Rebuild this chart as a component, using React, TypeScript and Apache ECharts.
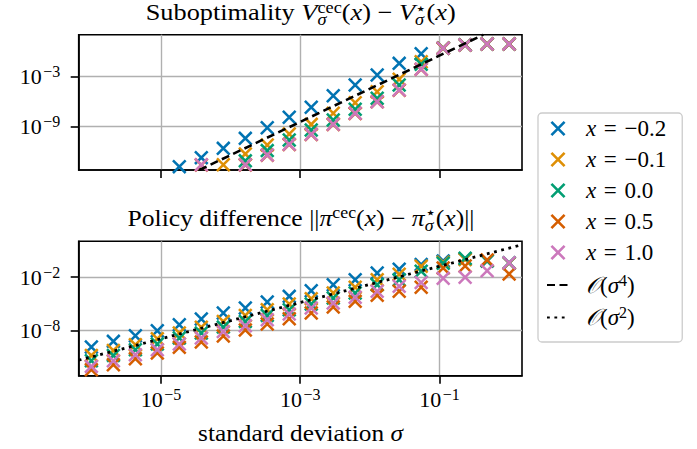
import React, { useEffect, useRef } from "react";
import * as echarts from "echarts";

const FONT = '"Liberation Serif", "DejaVu Serif", serif';
const BASE = 22;
const TITLE = 23;
const SCRIPT = 16;
const TSCRIPT = 16;

// log10 of the standard deviation sigma for the 20 sample points
const sigmaLog10 = [-6, -5.684, -5.368, -5.053, -4.737, -4.421, -4.105, -3.789, -3.474, -3.158, -2.842, -2.526, -2.211, -1.895, -1.579, -1.263, -0.947, -0.632, -0.316, 0];

const seriesNames = ["x = −0.2", "x = −0.1", "x = 0.0", "x = 0.5", "x = 1.0"];
const seriesColors = ["#0173b2", "#de8f05", "#029e73", "#d55e00", "#cc78bc"];

// Top panel: log10 of suboptimality (null = below the visible range)
const subM02 = [null, null, null, null, -13.8, -12.72, -11.6, -10.4, -9.12, -7.87, -6.67, -5.28, -4.0, -2.8, -1.4, -0.24, 0.45, 0.82, 0.92, 0.92];
const subM01 = [null, null, null, null, null, null, -13.57, -12.27, -11.2, -9.87, -8.72, -7.39, -6.12, -4.8, -3.3, -1.2, 0.43, 0.8, 0.92, 0.92];
const sub00 = [null, null, null, null, null, null, null, -13.1, -11.87, -10.6, -9.4, -8.2, -6.91, -5.59, -4.0, -1.5, 0.42, 0.8, 0.92, 0.92];
const sub05 = [null, null, null, null, null, -13.6, null, -13.6, -12.42, -11.14, -9.94, -8.73, -7.41, -6.02, -4.62, -2.12, 0.4, 0.8, 0.92, 0.92];
const sub10 = [null, null, null, null, null, -13.57, null, -13.57, -12.4, -11.12, -9.92, -8.71, -7.39, -6.0, -4.6, -2.1, 0.41, 0.8, 0.92, 0.92];

// Bottom panel: log10 of policy difference
const polM02 = [-9.83, -9.19, -8.56, -8.0, -7.33, -6.7, -6.03, -5.47, -4.8, -4.16, -3.53, -2.86, -2.3, -1.55, -1.12, -0.6, -0.2, 0.0, -0.2, -0.45];
const polM01 = [-10.76, -10.2, -9.57, -8.9, -8.26, -7.62, -6.96, -6.29, -5.66, -5.02, -4.42, -3.79, -3.15, -2.3, -1.7, -0.8, -0.35, -0.05, -0.15, -0.45];
const pol00 = [-11.36, -10.76, -10.13, -9.49, -8.82, -8.26, -7.6, -6.96, -6.29, -5.66, -5.02, -4.35, -3.79, -2.86, -2.3, -1.35, -0.47, 0.09, -0.2, -0.4];
const pol05 = [-12.36, -11.8, -11.13, -10.5, -9.86, -9.27, -8.6, -7.92, -7.25, -6.66, -6.03, -5.35, -4.72, -4.05, -3.6, -3.15, -1.0, -0.77, -0.1, -1.66];
const pol10 = [-11.99, -11.36, -10.68, -10.13, -9.49, -8.82, -8.1, -7.45, -6.77, -6.14, -5.47, -4.91, -4.27, -3.6, -3.04, -2.62, -2.15, -2.03, -1.3, -0.4];

// reference lines [log10 sigma, log10 value]
const sigma4Ref = [[-4.45, -14.2], [-0.37, 2.04]];
const sigma2Ref = [[-6.182, -11.3], [0.185, 1.6]];

const xTicks = [-5, -3, -1];
const yTicksTop = [-9, -3];
const yTicksBottom = [-8, -2];

const X_RANGE = [-6.182, 0.185];
const Y_TOP_RANGE = [-14.2, 2.04];
const Y_BOTTOM_RANGE = [-13.03, 1.99];

const X_PATH =
  "path://M7.07,-7.07L107.07,92.93L92.93,107.07L-7.07,7.07ZM107.07,7.07L7.07,107.07L-7.07,92.93L92.93,-7.07Z";

type Piece = { t: string; size: number; italic?: boolean; rise?: number; stack?: boolean };

function mathText(pieces: Piece[], cx: number, baseline: number, targetWidth: number) {
  const ctx = document.createElement("canvas").getContext("2d")!;
  let x = 0;
  let prevStart = 0;
  let prevW = 0;
  const items: { start: number; p: Piece }[] = [];
  for (const p of pieces) {
    ctx.font = `${p.italic ? "italic " : ""}${p.size}px ${FONT}`;
    const w = ctx.measureText(p.t).width;
    let start: number;
    if (p.stack) {
      start = prevStart;
      const adv = Math.max(prevW, w);
      x = start + adv;
      prevW = adv;
    } else {
      start = x;
      x += w;
      prevStart = start;
      prevW = w;
    }
    items.push({ start, p });
  }
  const total = x;
  const sx = targetWidth / total;
  return items.map(({ start, p }) => ({
    type: "text",
    x: cx - targetWidth / 2 + start * sx,
    y: baseline - (p.rise || 0) - 0.3375 * p.size,
    scaleX: sx,
    silent: true,
    style: {
      text: p.t,
      fontSize: p.size,
      fontFamily: FONT,
      fontStyle: p.italic ? "italic" : "normal",
      fill: "#000",
      align: "left",
      verticalAlign: "middle",
    },
  }));
}

const toPoints = (vals: (number | null)[]) =>
  sigmaLog10.map((s, i) => [s, vals[i]]).filter((d) => d[1] !== null);

const tickLabel = (v: number) => `{b|10}{s|${v < 0 ? "−" : ""}${Math.abs(v)}}`;

const richBase = {
  b: { fontFamily: FONT, fontSize: BASE, lineHeight: 26, color: "#000" },
  s: { fontFamily: FONT, fontSize: SCRIPT, lineHeight: 12, verticalAlign: "top", color: "#000", padding: [0, 0, 0, 1.5] },
};

const SP = "\u2004";
const legendLabels: Record<string, string> = {
  "x = −0.2": `{i|x}{r|${SP}=${SP}−0.2}`,
  "x = −0.1": `{i|x}{r|${SP}=${SP}−0.1}`,
  "x = 0.0": `{i|x}{r|${SP}=${SP}0.0}`,
  "x = 0.5": `{i|x}{r|${SP}=${SP}0.5}`,
  "x = 1.0": `{i|x}{r|${SP}=${SP}1.0}`,
  "O(σ⁴)": "{c|𝒪}{r|(}{i|σ}{s|4}{r|)}",
  "O(σ²)": "{c|𝒪}{r|(}{i|σ}{s|2}{r|)}",
};

export default function App() {
  const ref = useRef<HTMLDivElement>(null);
  useEffect(() => {
    const chart = echarts.init(ref.current!, undefined, { renderer: "svg" });
    const topData = [subM02, subM01, sub00, sub05, sub10];
    const botData = [polM02, polM01, pol00, pol05, pol10];

    const axisCommonX = (gridIndex: number, showLabels: boolean) => ({
      type: "value",
      gridIndex,
      min: X_RANGE[0],
      max: X_RANGE[1],
      axisLine: { show: true, onZero: false, lineStyle: { color: "#000", width: 1.6 } },
      axisTick: { show: true, length: 8, lineStyle: { color: "#000", width: 1.6 }, customValues: xTicks },
      axisLabel: {
        show: showLabels,
        customValues: xTicks,
        margin: 11,
        formatter: tickLabel,
        rich: richBase,
      },
      splitLine: { show: true, lineStyle: { color: "#b0b0b0", width: 1.4 } },
    });
    const axisCommonY = (gridIndex: number, range: number[], ticks: number[]) => ({
      type: "value",
      gridIndex,
      min: range[0],
      max: range[1],
      axisLine: { show: true, onZero: false, lineStyle: { color: "#000", width: 1.6 } },
      axisTick: { show: true, length: 8, lineStyle: { color: "#000", width: 1.6 }, customValues: ticks },
      axisLabel: {
        show: true,
        customValues: ticks,
        margin: 18.5,
        formatter: tickLabel,
        rich: richBase,
      },
      splitLine: { show: true, lineStyle: { color: "#b0b0b0", width: 1.4 } },
    });

    const scatter = (gi: number, i: number, vals: (number | null)[]) => ({
      type: "scatter",
      name: seriesNames[i],
      xAxisIndex: gi,
      yAxisIndex: gi,
      data: toPoints(vals),
      symbol: X_PATH,
      symbolSize: 14.5,
      symbolKeepAspect: true,
      itemStyle: { color: seriesColors[i], opacity: 1 },
      clip: true,
      z: 3,
      silent: true,
    });

    const series: any[] = [];
    topData.forEach((v, i) => series.push(scatter(0, i, v)));
    botData.forEach((v, i) => series.push(scatter(1, i, v)));
    series.push({
      type: "line",
      name: "O(σ⁴)",
      xAxisIndex: 0,
      yAxisIndex: 0,
      data: sigma4Ref,
      symbol: "none",
      showSymbol: false,
      clip: true,
      lineStyle: { color: "#000", width: 2.6, type: [8, 4.5] },
      itemStyle: { color: "#000" },
      z: 4,
      silent: true,
    });
    series.push({
      type: "line",
      name: "O(σ²)",
      xAxisIndex: 1,
      yAxisIndex: 1,
      data: sigma2Ref,
      symbol: "none",
      showSymbol: false,
      clip: true,
      lineStyle: { color: "#000", width: 2.8, type: [2.8, 4.6] },
      itemStyle: { color: "#000" },
      z: 4,
      silent: true,
    });

    const topTitle = mathText(
      [
        { t: "Suboptimality ", size: TITLE },
        { t: "V", size: TITLE, italic: true },
        { t: "cec", size: TSCRIPT, rise: 6.5 },
        { t: "σ", size: TSCRIPT, italic: true, rise: -6, stack: true },
        { t: "(", size: TITLE },
        { t: "x", size: TITLE, italic: true },
        { t: ")", size: TITLE },
        { t: " − ", size: TITLE },
        { t: "V", size: TITLE, italic: true },
        { t: "⋆", size: TSCRIPT, rise: 5.5 },
        { t: "σ", size: TSCRIPT, italic: true, rise: -6, stack: true },
        { t: "(", size: TITLE },
        { t: "x", size: TITLE, italic: true },
        { t: ")", size: TITLE },
      ],
      300.7,
      19.5,
      310
    );
    const botTitle = mathText(
      [
        { t: "Policy difference ", size: TITLE },
        { t: "||", size: TITLE },
        { t: "π", size: TITLE, italic: true },
        { t: "cec", size: TSCRIPT, rise: 7.5 },
        { t: "(", size: TITLE },
        { t: "x", size: TITLE, italic: true },
        { t: ")", size: TITLE },
        { t: " − ", size: TITLE },
        { t: "π", size: TITLE, italic: true },
        { t: "⋆", size: TSCRIPT, rise: 7 },
        { t: "σ", size: TSCRIPT, italic: true, rise: -5.5, stack: true },
        { t: "(", size: TITLE },
        { t: "x", size: TITLE, italic: true },
        { t: ")", size: TITLE },
        { t: "||", size: TITLE },
      ],
      301,
      225.5,
      347
    );
    const xLabel = mathText(
      [
        { t: "standard deviation ", size: TITLE },
        { t: "σ", size: TITLE, italic: true },
      ],
      300.6,
      440.5,
      205
    );

    chart.setOption({
      animation: false,
      backgroundColor: "#fff",
      textStyle: { fontFamily: FONT },
      grid: [
        { left: 78.7, top: 34.7, width: 443.3, height: 135.3, show: true, borderColor: "#000", borderWidth: 1.6, backgroundColor: "transparent", containLabel: false, outerBoundsMode: "none" },
        { left: 78.7, top: 241.3, width: 443.3, height: 134.4, show: true, borderColor: "#000", borderWidth: 1.6, backgroundColor: "transparent", containLabel: false, outerBoundsMode: "none" },
      ],
      xAxis: [axisCommonX(0, false), axisCommonX(1, true)],
      yAxis: [axisCommonY(0, Y_TOP_RANGE, yTicksTop), axisCommonY(1, Y_BOTTOM_RANGE, yTicksBottom)],
      legend: {
        orient: "vertical",
        left: 538,
        top: 113,
        padding: [4, 16, 13, 8],
        itemWidth: 22,
        itemHeight: 15,
        itemGap: 8,
        selectedMode: false,
        backgroundColor: "rgba(255,255,255,0.8)",
        borderColor: "#cccccc",
        borderWidth: 1.3,
        borderRadius: 4,
        itemStyle: { opacity: 1 },
        data: [
          ...seriesNames,
          { name: "O(σ⁴)", itemStyle: { opacity: 0, color: "rgba(0,0,0,0)", borderWidth: 0 } },
          { name: "O(σ²)", itemStyle: { opacity: 0, color: "rgba(0,0,0,0)", borderWidth: 0 } },
        ],
        formatter: (n: string) => legendLabels[n] || n,
        textStyle: {
          fontFamily: FONT,
          fontSize: 23,
          color: "#000",
          padding: [0, 0, 0, 12],
          rich: {
            r: { fontFamily: FONT, fontSize: 23, lineHeight: 26, color: "#000" },
            i: { fontFamily: FONT, fontSize: 23, lineHeight: 26, fontStyle: "italic", color: "#000" },
            c: { fontFamily: FONT, fontSize: 23, lineHeight: 26, fontStyle: "italic", color: "#000" },
            s: { fontFamily: FONT, fontSize: 16, lineHeight: 12, verticalAlign: "top", color: "#000" },
          },
        },
      },
      graphic: [...topTitle, ...botTitle, ...xLabel],
      series,
    });
    return () => chart.dispose();
  }, []);
  return <div ref={ref} style={{ position: "fixed", left: 0, top: 0, width: 697, height: 449 }} />;
}
